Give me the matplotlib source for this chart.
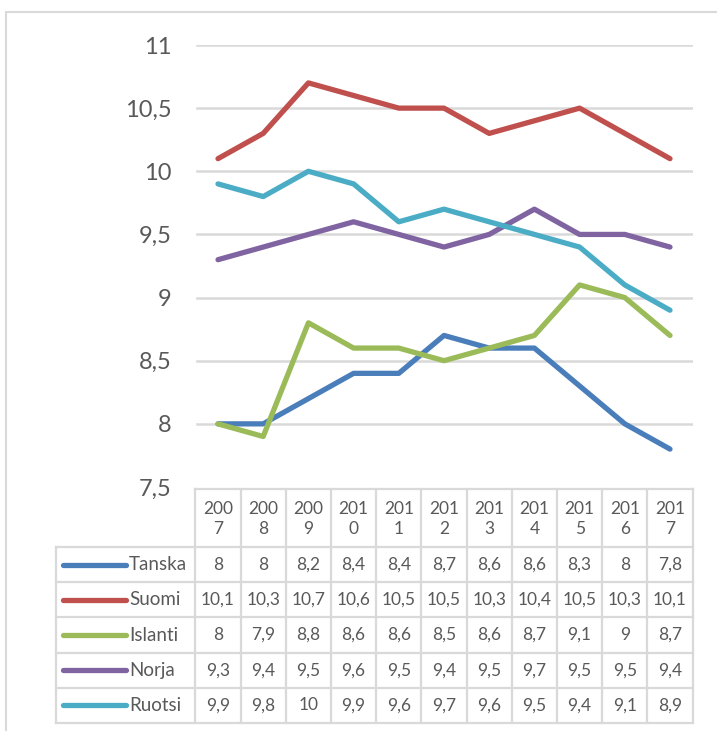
import matplotlib
matplotlib.use("Agg")
import matplotlib.pyplot as plt
from matplotlib.patches import Rectangle

plt.rcParams['font.family'] = ['Lato', 'DejaVu Sans']

years = ["2007", "2008", "2009", "2010", "2011", "2012", "2013", "2014", "2015", "2016", "2017"]
countries = ["Tanska", "Suomi", "Islanti", "Norja", "Ruotsi"]
tanska = [8, 8, 8.2, 8.4, 8.4, 8.7, 8.6, 8.6, 8.3, 8, 7.8]
suomi = [10.1, 10.3, 10.7, 10.6, 10.5, 10.5, 10.3, 10.4, 10.5, 10.3, 10.1]
islanti = [8, 7.9, 8.8, 8.6, 8.6, 8.5, 8.6, 8.7, 9.1, 9, 8.7]
norja = [9.3, 9.4, 9.5, 9.6, 9.5, 9.4, 9.5, 9.7, 9.5, 9.5, 9.4]
ruotsi = [9.9, 9.8, 10, 9.9, 9.6, 9.7, 9.6, 9.5, 9.4, 9.1, 8.9]
series = [tanska, suomi, islanti, norja, ruotsi]
colors = ["#4a7ebb", "#c0504d", "#9bbb59", "#8064a2", "#4bacc6"]
yticks = [7.5, 8, 8.5, 9, 9.5, 10, 10.5, 11]

W, H = 717, 731
fig = plt.figure(figsize=(W / 100, H / 100), dpi=100)
text_col = "#595959"
grid_col = "#d9d9d9"


def fx(px):
    return px / W


def fy(py):
    return 1 - py / H


def fmt(v):
    return f"{v:g}".replace(".", ",")


# outer chart border
fig.add_artist(Rectangle((fx(6), fy(740)), 1.2, fy(12) - fy(740), transform=fig.transFigure,
                         fill=False, edgecolor=grid_col, linewidth=1.5))

col_left, col_right = 195.4, 692.6
plot_top, plot_bot = 45, 487
ax = fig.add_axes([fx(col_left), fy(plot_bot), fx(col_right) - fx(col_left), fy(plot_top) - fy(plot_bot)])
ax.set_xlim(-0.5, len(years) - 0.5)
ax.set_ylim(7.5, 11)
ax.set_yticks(yticks)
ax.set_yticklabels([fmt(v) for v in yticks], fontsize=17, color=text_col)
ax.tick_params(axis="y", length=0, pad=17)
ax.set_xticks([])
for s in ax.spines.values():
    s.set_visible(False)
for v in yticks:
    if v > 7.5:
        ax.axhline(v, color=grid_col, linewidth=1.8, zorder=0, xmin=0.004, xmax=1.0)

xs = list(range(len(years)))
for vals, c in zip(series, colors):
    ax.plot(xs, vals, color=c, linewidth=3.8, solid_capstyle="round", solid_joinstyle="round")

# data table below the plot
tab_left = 56
tab_top, head_bot, tab_bot = 489, 547, 723
tax = fig.add_axes([fx(tab_left), fy(tab_bot), fx(col_right) - fx(tab_left), fy(tab_top) - fy(tab_bot)])
step = (col_right - col_left) / len(years)
left_units = (col_left - tab_left) / step
tax.set_xlim(-0.5 - left_units, len(years) - 0.5)
tax.set_ylim(tab_bot, tab_top)
tax.axis("off")
row_h = (tab_bot - head_bot) / len(countries)
lw = 1.6

# header cells
tax.plot([-0.5, len(years) - 0.5], [tab_top, tab_top], color=grid_col, lw=lw, clip_on=False)
for i in range(len(years) + 1):
    tax.plot([i - 0.5, i - 0.5], [tab_top, tab_bot], color=grid_col, lw=lw, clip_on=False)
for i, yr in enumerate(years):
    tax.text(i, tab_top + (head_bot - tab_top) / 2 + 1, yr[:3] + "\n" + yr[3:], ha="center", va="center",
             fontsize=12.5, color=text_col, linespacing=1.25)

x0 = -0.5 - left_units
tax.plot([x0, x0], [head_bot, tab_bot], color=grid_col, lw=lw, clip_on=False)
for r in range(len(countries) + 1):
    yb = head_bot + r * row_h
    tax.plot([x0, len(years) - 0.5], [yb, yb], color=grid_col, lw=lw, clip_on=False)

for r, (name, vals, c) in enumerate(zip(countries, series, colors)):
    yc = head_bot + (r + 0.5) * row_h
    tax.plot([x0 + 0.15, x0 + 1.55], [yc, yc], color=c, lw=3.8, solid_capstyle="round", clip_on=False)
    tax.text(x0 + 1.62, yc, name, ha="left", va="center", fontsize=13.5, color=text_col)
    for i, v in enumerate(vals):
        tax.text(i, yc, fmt(v), ha="center", va="center", fontsize=12.5, color=text_col)

fig.savefig("out.png", dpi=100)
